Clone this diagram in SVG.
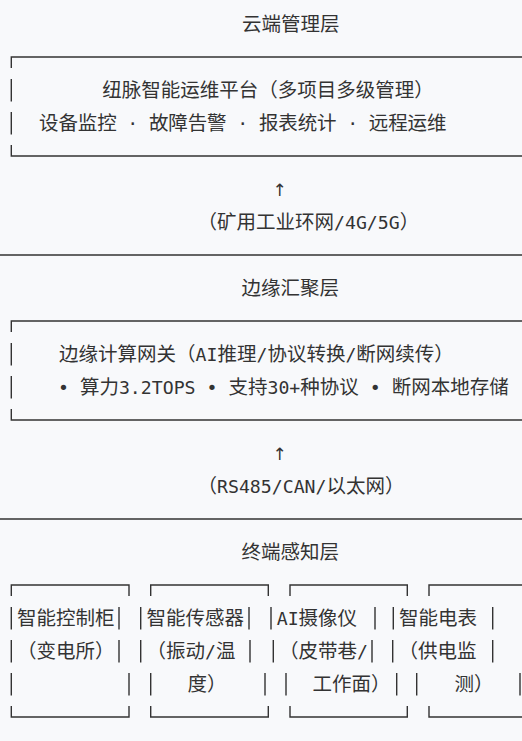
<svg xmlns="http://www.w3.org/2000/svg" width="522" height="741" viewBox="0 0 522 741">
<style>
.t{font-family:"DejaVu Sans Mono","Noto Sans CJK SC",monospace;font-size:19.5px;fill:#333;white-space:pre}
.a{font-size:18.2px}
.arr{font-family:"DejaVu Sans","Noto Sans CJK SC",sans-serif;font-size:17px;fill:#333}
.ln{stroke:#333;stroke-width:1.4;fill:none}
</style>
<rect x="0" y="0" width="522" height="741" fill="#f8f9fb"/>
<g id="layer-titles">
<text class="t" x="242" y="31">云端管理层</text>
<text class="t" x="241.5" y="295">边缘汇聚层</text>
<text class="t" x="241.5" y="559">终端感知层</text>
</g>
<g id="separators">
<path class="ln" d="M0 255H522M0 519H522"/>
</g>
<g id="cloud-platform">
<path class="ln" d="M11.3 68V57H522M11.3 79V101.5M11.3 112V134.5M11.3 145V156H522"/>
<text class="t" x="102.3" y="97">纽脉智能运维平台（多项目多级管理）</text>
<text class="t" x="39" y="130" textLength="407.5" lengthAdjust="spacing">设备监控<tspan class="a"> · </tspan>故障告警<tspan class="a"> · </tspan>报表统计<tspan class="a"> · </tspan>远程运维</text>
</g>
<g id="edge-gateway">
<path class="ln" d="M11.3 332V321H522M11.3 343V365.5M11.3 376V398.5M11.3 409V420H522"/>
<text class="t" x="59" y="361">边缘计算网关（<tspan class="a">AI</tspan>推理<tspan class="a">/</tspan>协议转换<tspan class="a">/</tspan>断网续传）</text>
<text class="t" x="58" y="394"><tspan class="a">• </tspan>算力<tspan class="a">3.2TOPS • </tspan>支持<tspan class="a">30+</tspan>种协议<tspan class="a"> • </tspan>断网本地存储</text>
</g>
<g id="device-control-cabinet">
<path class="ln" d="M11.3 596V585H129V596M11.3 607V629.5M11.3 640V662.5M11.3 673V695.5M119 607V629.5M119 640V662.5M129 673V695.5M11.3 706V717H129V706"/>
<text class="t" x="17.1" y="625">智能控制柜</text>
<text class="t" x="17.1" y="658">（变电所）</text>
</g>
<g id="device-sensor">
<path class="ln" d="M150.7 596V585H268.3V596M140.7 607V629.5M140.7 640V662.5M150.7 673V695.5M249 607V629.5M250 640V662.5M265 673V695.5M150.7 706V717H268.3V706"/>
<text class="t" x="146.5" y="625">智能传感器</text>
<text class="t" x="146.5" y="658">（振动<tspan class="a">/</tspan>温</text>
<text class="t" x="187.5" y="691">度）</text>
</g>
<g id="device-camera">
<path class="ln" d="M290 596V585H407.3V596M271 607V629.5M273.3 640V662.5M286 673V695.5M375 607V629.5M372 640V662.5M396.7 673V695.5M290 706V717H407.3V706"/>
<text class="t" x="276.7" y="625"><tspan class="a">AI</tspan>摄像仪</text>
<text class="t" x="279" y="658">（皮带巷<tspan class="a">/</tspan></text>
<text class="t" x="312.5" y="691">工作面）</text>
</g>
<g id="device-meter">
<path class="ln" d="M429 596V585H522M393.3 607V629.5M392.7 640V662.5M416.7 673V695.5M492.7 607V629.5M492.7 640V662.5M520 673V695.5M429 706V717H522"/>
<text class="t" x="399" y="625">智能电表</text>
<text class="t" x="398.5" y="658">（供电监</text>
<text class="t" x="454.5" y="691">测）</text>
</g>
<g id="connectors">
<text class="arr" x="279.5" y="195.5" text-anchor="middle">↑</text>
<text class="t" x="197.5" y="229">（矿用工业环网<tspan class="a">/4G/5G</tspan>）</text>
<text class="arr" x="279.5" y="459.5" text-anchor="middle">↑</text>
<text class="t" x="197.5" y="493">（<tspan class="a">RS485/CAN/</tspan>以太网）</text>
</g>
</svg>
